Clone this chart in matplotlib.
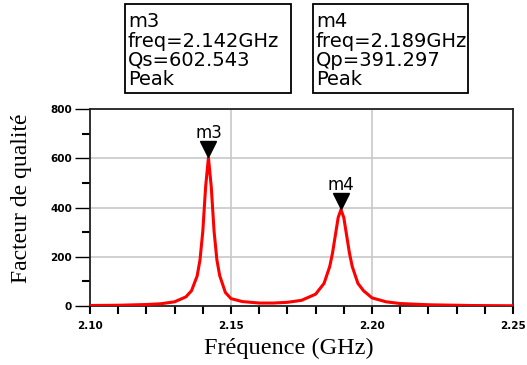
import matplotlib
matplotlib.use("Agg")
import matplotlib.pyplot as plt
from matplotlib.ticker import MultipleLocator
from matplotlib.transforms import offset_copy
from matplotlib.patches import Rectangle

# values
freq = [2.100, 2.110, 2.120, 2.125, 2.130, 2.134, 2.136, 2.138, 2.139, 2.140,
        2.141, 2.142, 2.143, 2.144, 2.145, 2.146, 2.148, 2.150, 2.154, 2.160,
        2.165, 2.170, 2.175, 2.180, 2.183, 2.185, 2.186, 2.187, 2.188, 2.189,
        2.190, 2.191, 2.192, 2.193, 2.195, 2.197, 2.200, 2.205, 2.210, 2.220,
        2.235, 2.250]
qual = [2, 3, 6, 9, 17, 37, 62, 122, 187, 303,
        484, 602.5, 484, 303, 187, 123, 55, 30, 18, 12,
        12, 15, 23, 48, 92, 160, 215, 287, 359, 391.3,
        359, 287, 215, 160, 92, 62, 33, 17, 10, 5,
        2, 1]

markers = ["m3", "m4"]
marker_freq = [2.142, 2.189]
marker_q = [602.543, 391.297]
marker_kind = ["Qs", "Qp"]

W, H = 527, 365
fig = plt.figure(figsize=(W / 100, H / 100), dpi=100)
ax = fig.add_axes([90/W, 1-306/H, 423/W, 197/H])

ax.plot(freq, qual, color="#ff0000", lw=2.2, zorder=3)
tri = offset_copy(ax.transData, fig=fig, y=6, units="points")
ax.plot(marker_freq, marker_q, linestyle="none", marker="v", color="black",
        markersize=12, zorder=4, clip_on=False, transform=tri)
for name, f, q in zip(markers, marker_freq, marker_q):
    ax.annotate(name, (f, q), xytext=(0, 14), textcoords="offset points",
                ha="center", va="baseline", fontsize=12, family="DejaVu Sans",
                annotation_clip=False)

ax.set_xlim(2.10, 2.25)
ax.set_ylim(0, 800)
ax.set_xticks([2.10, 2.15, 2.20, 2.25])
ax.set_xticklabels(["2.10", "2.15", "2.20", "2.25"])
ax.set_yticks([0, 200, 400, 600, 800])
ax.xaxis.set_minor_locator(MultipleLocator(0.01))
ax.yaxis.set_minor_locator(MultipleLocator(100))
ax.grid(True, which="major", color="#c8c8c8", lw=1.2, zorder=0)
ax.tick_params(which="major", axis="y", length=11, width=1, direction="out",
               labelsize=7.5, pad=2)
ax.tick_params(which="minor", axis="y", length=6, width=1.5, direction="out")
ax.tick_params(which="both", axis="x", length=6, width=1.5, direction="out",
               labelsize=7.5, pad=5)
for lab in ax.get_xticklabels() + ax.get_yticklabels():
    lab.set_family("DejaVu Sans")
    lab.set_fontweight("bold")
for s in ax.spines.values():
    s.set_linewidth(1.3)
    s.set_color("#222222")

ax.set_xlabel("Fréquence (GHz)", family="Liberation Serif", fontsize=17.5)
ax.set_ylabel("Facteur de qualité", family="Liberation Serif", fontsize=17)
ax.xaxis.label.set_va("center")
ax.yaxis.label.set_va("center")
ax.xaxis.set_label_coords(0.47, (306 - 348) / 197)
ax.yaxis.set_label_coords((22 - 90) / 423, (306 - 198) / 197)

# marker readout boxes (pixel positions of the boxes in the figure)
box_x = [(125, 291), (313, 468)]
box_y = (4, 93)
baselines = [27, 47, 66, 85]
for (x0, x1), name, f, q, k in zip(box_x, markers, marker_freq, marker_q, marker_kind):
    fig.patches.append(Rectangle((x0 / W, 1 - box_y[1] / H), (x1 - x0) / W,
                                 (box_y[1] - box_y[0]) / H, transform=fig.transFigure,
                                 fc="white", ec="black", lw=1.3))
    lines = [name, "freq=%.3fGHz" % f, "%s=%.3f" % (k, q), "Peak"]
    for line, yb in zip(lines, baselines):
        fig.text((x0 + 3) / W, 1 - yb / H, line, ha="left", va="baseline",
                 fontsize=14, family="DejaVu Sans")

fig.savefig("out.png", dpi=100)
